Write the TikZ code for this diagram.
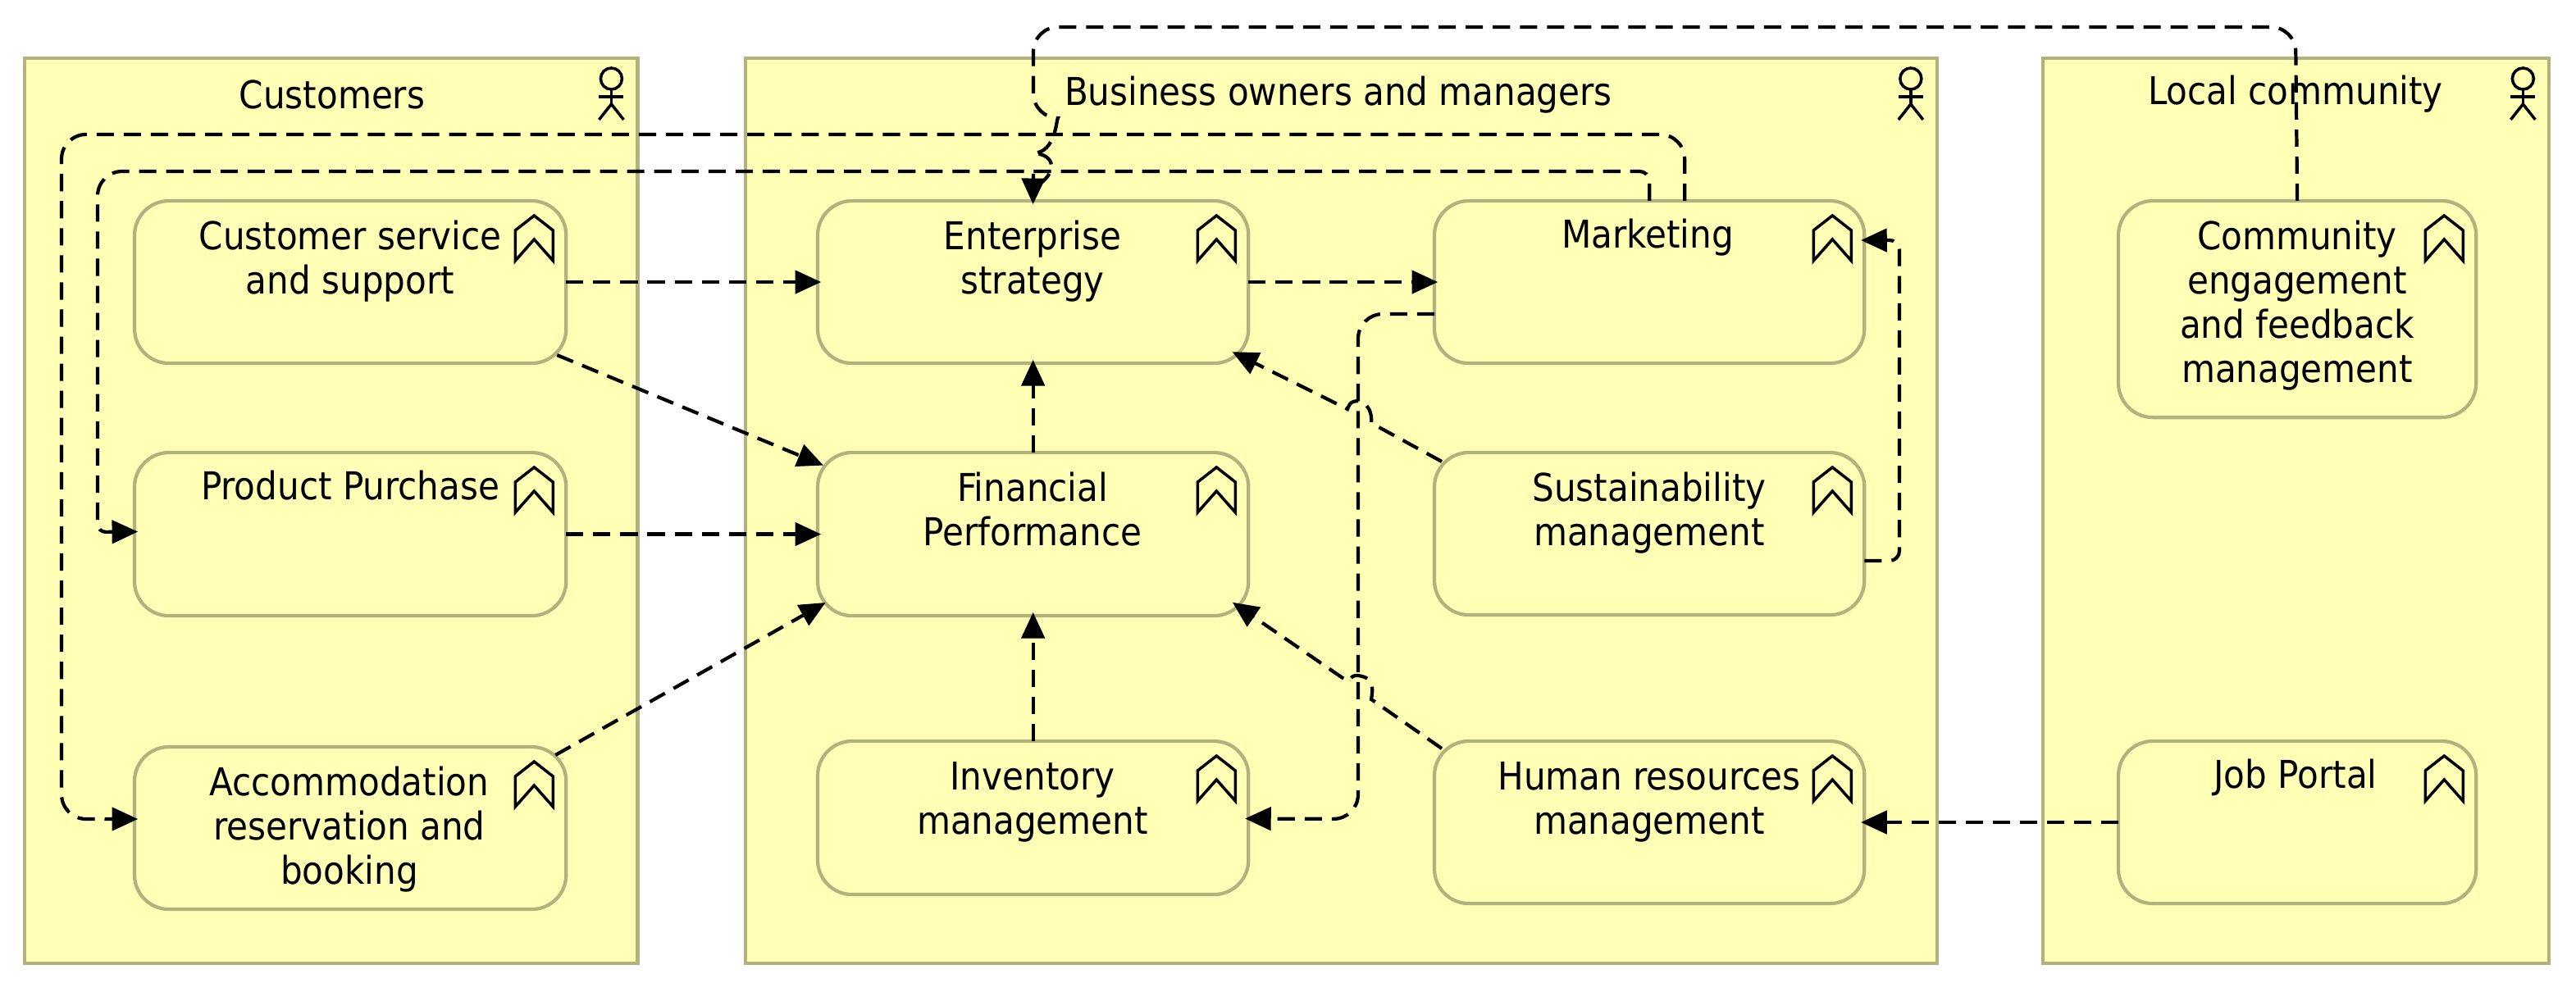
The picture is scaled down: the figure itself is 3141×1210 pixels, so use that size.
\documentclass[tikz,border=0pt]{standalone}
\usepackage{fontspec}
\setmainfont{DejaVu Sans Condensed}
\usetikzlibrary{positioning, arrows.meta}
\definecolor{ActorYellow}{HTML}{FFFFB5}
\definecolor{ActorBorder}{HTML}{B2B27F}
\tikzset{
    actorbox/.style={draw=ActorBorder, fill=ActorYellow, line width=1.2pt, anchor=north west, inner sep=0pt, outer sep=0pt},
    goalbox/.style={draw=ActorBorder, fill=ActorYellow, line width=1.2pt, rounded corners=0.42cm, anchor=north west, inner sep=0pt, outer sep=0pt},
    grouptitle/.style={font=\fontsize{13.3}{16}\selectfont, inner sep=0pt},
    goaltext/.style={font=\fontsize{13.3}{15.4}\selectfont, align=center, inner sep=0pt, anchor=base},
    link/.style={line width=1.2pt, dash pattern=on 6pt off 3.4pt},
    flow/.style={link, -{Triangle[length=9pt,width=8pt]}, shorten >=-1.2pt},
    iconline/.style={line width=1pt, black}
}
% little figure in the corner of a group
\newcommand{\actoricon}[1]{
    \draw[iconline] ([shift={(-32,25)}]#1.north east) circle (0.13cm);
    \draw[iconline] ([shift={(-47,47)}]#1.north east) -- ([shift={(-17,47)}]#1.north east);
    \draw[iconline] ([shift={(-32,38)}]#1.north east) -- ([shift={(-32,56)}]#1.north east);
    \draw[iconline] ([shift={(-47,75)}]#1.north east) -- ([shift={(-32,56)}]#1.north east) -- ([shift={(-17,75)}]#1.north east);
}
% double chevron in the corner of a goal
\newcommand{\goalicon}[1]{
    \draw[iconline, miter limit=10] ([shift={(-62,36)}]#1.north east) -- ([shift={(-39,18)}]#1.north east) -- ([shift={(-16,36)}]#1.north east) -- ([shift={(-16,73)}]#1.north east) -- ([shift={(-39,47)}]#1.north east) -- ([shift={(-62,73)}]#1.north east) -- cycle;
}
\begin{document}
\begin{tikzpicture}[x=0.01cm, y=-0.01cm]
    \useasboundingbox (0,0) rectangle (3141,1210);

    % groups
    \node[actorbox, minimum width=7.47cm, minimum height=11.03cm] (customers) at (30,71) {};
    \node[actorbox, minimum width=14.52cm, minimum height=11.03cm] (owners) at (909,71) {};
    \node[actorbox, minimum width=6.17cm, minimum height=11.03cm] (community) at (2491,71) {};
    \node[grouptitle] (customerstitle) at (405,115) {Customers};
    \node[grouptitle] (ownerstitle) at (1632,116) {Business owners and managers};
    \node[grouptitle] (communitytitle) at (2799,115) {Local community};
    \actoricon{customers}
    \actoricon{owners}
    \actoricon{community}

    % goals
    \node[goalbox, minimum width=5.26cm, minimum height=1.98cm] (support) at (164,245) {};
    \node[goalbox, minimum width=5.26cm, minimum height=1.99cm] (purchase) at (164,552) {};
    \node[goalbox, minimum width=5.26cm, minimum height=1.98cm] (booking) at (164,911) {};
    \node[goalbox, minimum width=5.25cm, minimum height=1.98cm] (strategy) at (997,245) {};
    \node[goalbox, minimum width=5.25cm, minimum height=1.99cm] (financial) at (997,552) {};
    \node[goalbox, minimum width=5.25cm, minimum height=1.87cm] (inventory) at (997,904) {};
    \node[goalbox, minimum width=5.24cm, minimum height=1.98cm] (marketing) at (1749,245) {};
    \node[goalbox, minimum width=5.24cm, minimum height=1.98cm] (sustain) at (1749,552) {};
    \node[goalbox, minimum width=5.24cm, minimum height=1.98cm] (resources) at (1749,904) {};
    \node[goalbox, minimum width=4.36cm, minimum height=2.64cm] (engage) at (2583,245) {};
    \node[goalbox, minimum width=4.36cm, minimum height=1.98cm] (jobs) at (2583,904) {};

    \foreach \n in {support, purchase, booking, strategy, financial, inventory, marketing, sustain, resources, engage, jobs} {
        \goalicon{\n}
    }

    \node[goaltext] (supportlabel) at (427,359) {Customer service\\and support};
    \node[goaltext] (purchaselabel) at (427,610) {Product Purchase};
    \node[goaltext] (bookinglabel) at (426,1079) {Accommodation\\reservation and\\booking};
    \node[goaltext] (strategylabel) at (1259,359) {Enterprise\\strategy};
    \node[goaltext] (financiallabel) at (1259,666) {Financial\\Performance};
    \node[goaltext] (inventorylabel) at (1259,1018) {Inventory\\management};
    \node[goaltext] (marketinglabel) at (2009,303) {Marketing};
    \node[goaltext] (sustainlabel) at (2011,666) {Sustainability\\management};
    \node[goaltext] (resourceslabel) at (2011,1018) {Human resources\\management};
    \node[goaltext] (engagelabel) at (2801,467) {Community\\engagement\\and feedback\\management};
    \node[goaltext] (jobslabel) at (2799,962) {Job Portal};

    % straight links
    \draw[flow] (support.east) -- (strategy.west);
    \draw[flow] ([shift={(-11,-10)}]support.south east) -- ([shift={(3,14)}]financial.north west);
    \draw[flow] (purchase.east) -- (financial.west);
    \draw[flow] ([shift={(-13,10)}]booking.north east) -- ([shift={(6,-14)}]financial.south west);
    \draw[flow] (financial.north) -- (strategy.south);
    \draw[flow] (inventory.north) -- (financial.south);
    \draw[flow] (strategy.east) -- (marketing.west);
    \draw[flow] (jobs.west) -- (resources.east);

    % links with a hop over the long vertical one
    \draw[flow] ([shift={(9,11)}]sustain.north west) -- (1672,516) .. controls (1674,496) and (1660,486) .. (1650,490) .. controls (1646,492) .. (1643,499) -- ([shift={(-16,-12)}]strategy.south east);
    \draw[flow] ([shift={(9,9)}]resources.north west) -- (1672,853) .. controls (1676,832) and (1670,826) .. (1656,824) .. controls (1650,824) .. (1643,831) -- ([shift={(-16,-14)}]financial.south east);

    % routed links
    \draw[flow, rounded corners=0.3cm] ([yshift=-0.39cm]marketing.west) -- (1656,383) -- (1656,999) -- ([yshift=-0.01cm]inventory.east);
    \draw[flow, rounded corners=0.12cm] ([yshift=-0.33cm]sustain.east) -- (2316,684) -- (2316,293) -- ([yshift=0.51cm]marketing.east);
    \draw[flow, rounded corners=0.3cm] ([xshift=0.43cm]marketing.north) -- ++(0,-81) -- (75,164) -- (75,999) -- ([yshift=0.11cm]booking.west);
    \draw[flow, rounded corners=0.12cm] (marketing.north) -- ++(0,-36) [rounded corners=0.3cm] -- (119,209) [rounded corners=0.1cm] -- (119,649) -- ([yshift=0.03cm]purchase.west);

    % two hops on the way down to the strategy goal
    \coordinate (hoptop) at (1260,144);
    \coordinate (hopmid) at (1260,187);
    \coordinate (hopend) at (1262,228);
    \coordinate (tipstart) at (1260,212);
    \draw[link, rounded corners=0.3cm] (engage.north) -- (2799,33) -- (1260,33) -- (hoptop) [sharp corners] .. controls (1288,144) and (1288,186) .. (hopmid) .. controls (1288,188) and (1290,212) .. (hopend);
    \draw[flow] (tipstart) -- (strategy.north);
\end{tikzpicture}
\end{document}
